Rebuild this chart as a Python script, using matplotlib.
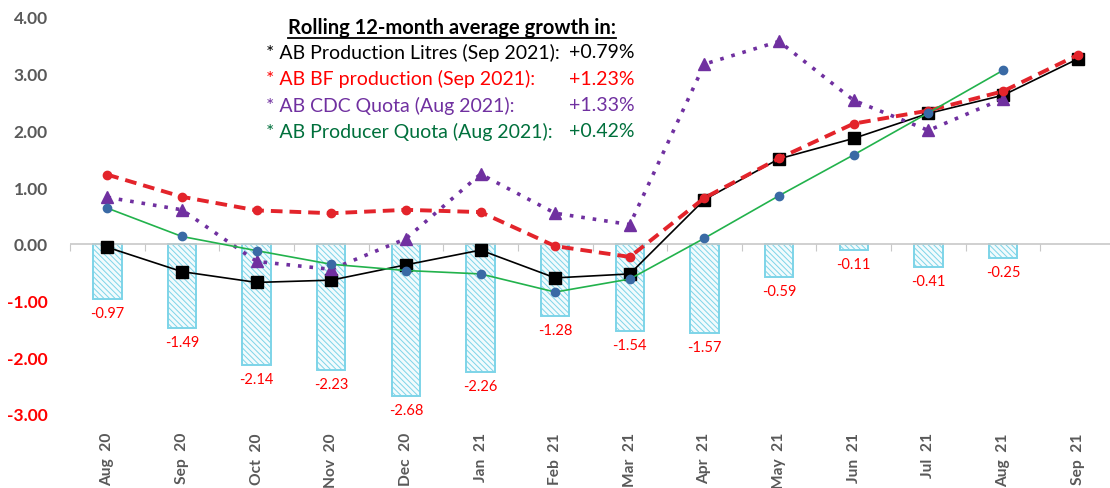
import matplotlib
matplotlib.use("Agg")
from matplotlib import pyplot as plt
from matplotlib.lines import Line2D
import numpy as np

plt.rcParams['font.family'] = ['Lato', 'DejaVu Sans']
plt.rcParams['hatch.linewidth'] = 0.7

months = ["Aug  20", "Sep  20", "Oct  20", "Nov  20", "Dec  20", "Jan  21", "Feb  21",
          "Mar  21", "Apr  21", "May  21", "Jun  21", "Jul  21", "Aug  21", "Sep  21"]

# monthly bars (shown with red labels)
bar_vals = [-0.97, -1.49, -2.14, -2.23, -2.68, -2.26, -1.28,
            -1.54, -1.57, -0.59, -0.11, -0.41, -0.25, np.nan]

prod_litres = [-0.06, -0.49, -0.68, -0.64, -0.37, -0.11, -0.60,
               -0.53, 0.78, 1.50, 1.86, 2.30, 2.62, 3.26]
bf_prod = [1.22, 0.83, 0.59, 0.54, 0.60, 0.56, -0.04,
           -0.23, 0.81, 1.51, 2.12, 2.35, 2.69, 3.33]
cdc_quota = [0.82, 0.60, -0.31, -0.45, 0.09, 1.23, 0.54,
             0.34, 3.17, 3.57, 2.53, 2.00, 2.56, np.nan]
producer_quota = [0.63, 0.13, -0.12, -0.36, -0.47, -0.53, -0.85,
                  -0.62, 0.10, 0.85, 1.57, 2.31, 3.06, np.nan]

box_title = "Rolling 12-month average growth in:"
box_lines = ["* AB Production Litres (Sep 2021):", "* AB BF production (Sep 2021):",
             "* AB CDC Quota (Aug 2021):", "* AB Producer Quota (Aug 2021):"]
box_values = ["+0.79%", "+1.23%", "+1.33%", "+0.42%"]
box_colors = ["#000000", "#ff0000", "#7030a0", "#00703c"]

W, H = 1110, 489
fig = plt.figure(figsize=(W / 100, H / 100), dpi=100)
ax = fig.add_axes([70 / W, 1 - 415 / H, 1045 / W, 397 / H])

x = np.arange(len(months))
ymin, ymax = -3.0, 4.0

bars = ax.bar(x, bar_vals, width=0.38, color="#f2fbfd", edgecolor="#7dd4e8",
              hatch="\\\\\\\\\\\\", linewidth=1.4, zorder=1)
for b, v in zip(bars, bar_vals):
    if np.isnan(v):
        continue
    ax.annotate(f"{v:.2f}", (b.get_x() + b.get_width() / 2, v), xytext=(0, -5),
                textcoords="offset points", ha="center", va="top",
                color="#ff0000", fontsize=10.5)

ax.axhline(0, color="#c8c8c8", lw=1.2, zorder=1.5)

ax.plot(x, prod_litres, color="black", lw=1.2, marker="s", ms=8, zorder=3)
ax.plot(x, cdc_quota, color="#7030a0", lw=2.6, ls=(0, (1, 2.2)), marker="^",
        ms=8, zorder=4)
ax.plot(x, bf_prod, color="#e3242b", lw=2.8, ls=(0, (3, 1.8)), marker="o",
        ms=6, zorder=5)
ax.plot(x, producer_quota, color="#22b24c", lw=1.2, marker="o", ms=6,
        mfc="#3a6aa5", mec="#3a6aa5", zorder=6)

ax.set_xlim(-0.5, len(months) - 0.5)
ax.set_ylim(ymin, ymax)
ticks = np.arange(-3, 5, 1)
ax.set_yticks(ticks)
ax.set_yticklabels([f"{t:.2f}" for t in ticks])
for lab, t in zip(ax.get_yticklabels(), ticks):
    lab.set_color("#ff0000" if t < 0 else "#595959")
    lab.set_fontweight("bold")
    lab.set_fontsize(12.5)
ax.tick_params(axis="y", length=0, pad=16)

ax.set_xticks(x)
ax.set_xticklabels(months, rotation=90, fontsize=11.2, fontweight="bold",
                   color="#595959")
ax.tick_params(axis="x", length=0, pad=13)
for s in ax.spines.values():
    s.set_visible(False)

# small ticks on the zero line between categories
sec = ax.secondary_xaxis((0 - ymin) / (ymax - ymin))
sec.set_xticks(np.arange(-0.5, len(months), 1))
sec.set_xticklabels([])
sec.tick_params(axis="x", length=5, color="#c8c8c8", direction="out")
for s in sec.spines.values():
    s.set_visible(False)

# annotation block
fs = 14
t = fig.text(452 / W, 1 - 28 / H, box_title, ha="center", va="center",
             fontsize=14.5, fontweight="bold", color="black")
fig.canvas.draw()
bb = t.get_window_extent().transformed(fig.transFigure.inverted())
fig.add_artist(Line2D([bb.x0, bb.x1], [bb.y0 - 0.003, bb.y0 - 0.003],
                      color="black", lw=1.3, transform=fig.transFigure))
for i, (ln, val, c) in enumerate(zip(box_lines, box_values, box_colors)):
    yy = 1 - (53 + i * 26.3) / H
    fig.text(266 / W, yy, ln, ha="left", va="center", fontsize=fs, color=c)
    fig.text(635 / W, yy, val, ha="right", va="center", fontsize=fs, color=c)

fig.savefig("out.png", dpi=100)
